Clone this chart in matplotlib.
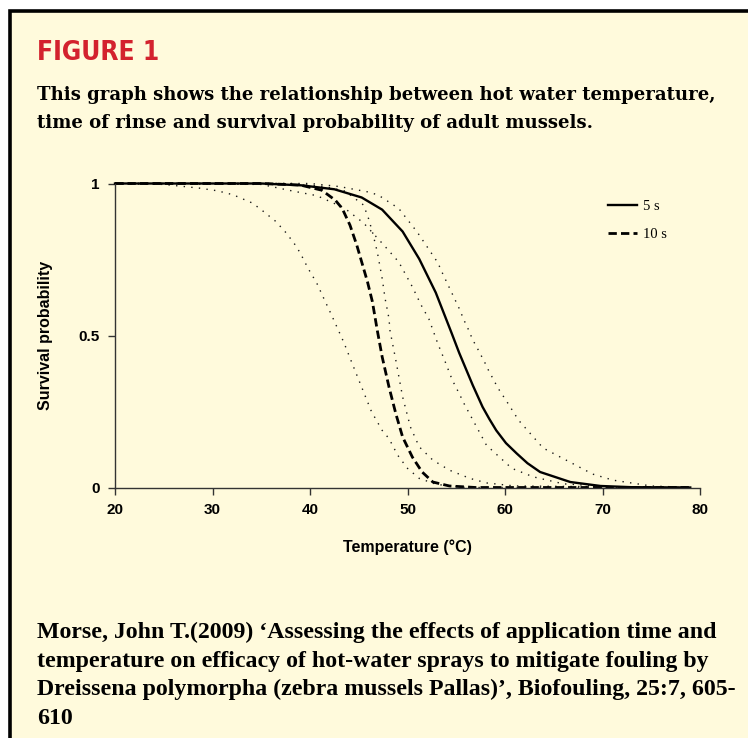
import matplotlib
matplotlib.use("Agg")
import matplotlib.pyplot as plt
from matplotlib.patches import Rectangle

# survival curves (temperature in deg C, survival probability)
temp_5s = [20, 35, 39.1, 42.5, 45.3, 47.4, 49.5, 51.2, 52.9, 54.5, 55.3, 56.7, 57.7,
           58.4, 59.1, 60.1, 61.2, 62.3, 63.6, 66.7, 69.8, 73, 79]
prob_5s = [1, 1, 0.994, 0.981, 0.954, 0.914, 0.842, 0.752, 0.641, 0.51, 0.443, 0.336,
           0.265, 0.225, 0.188, 0.146, 0.112, 0.08, 0.051, 0.018, 0.005, 0.001, 0]

temp_5s_lo = [20, 35, 38.1, 40.7, 43.5, 45.5, 47.5, 49.1, 50.5, 51.4, 52.2, 53.1, 53.8,
              54.6, 55.3, 55.8, 58.1, 60.7, 62.9, 66, 72, 79]
prob_5s_lo = [1, 0.997, 0.976, 0.96, 0.92, 0.87, 0.80, 0.742, 0.66, 0.6, 0.554, 0.474,
              0.419, 0.353, 0.309, 0.276, 0.139, 0.063, 0.035, 0.012, 0, 0]

temp_5s_hi = [20, 40, 43, 46.0, 47.0, 49.1, 51, 53.1, 53.6, 55.3, 55.8, 56.2, 56.7, 57.1,
              57.9, 58.3, 59.3, 60.2, 61.4, 63.9, 69.0, 71.1, 75, 79]
prob_5s_hi = [1, 1, 0.99, 0.972, 0.962, 0.918, 0.84, 0.74, 0.704, 0.589, 0.55, 0.523,
              0.485, 0.462, 0.413, 0.386, 0.326, 0.282, 0.221, 0.13, 0.044, 0.024, 0.005, 0]

temp_10s = [20, 35, 39, 41.2, 42.6, 43.3, 44.1, 44.8, 45.3, 45.9, 46.4, 46.9, 47.4, 48.1,
            48.8, 49.5, 50.5, 51.5, 52.6, 54.3, 57, 79]
prob_10s = [1, 1, 0.995, 0.978, 0.945, 0.918, 0.863, 0.797, 0.742, 0.676, 0.611, 0.517,
            0.43, 0.331, 0.243, 0.166, 0.1, 0.051, 0.018, 0.005, 0, 0]

temp_10s_lo = [20, 25, 28.6, 30.5, 32.1, 34.0, 34.8, 36.5, 37.6, 38.6, 39.1, 39.8, 40.7,
               41.4, 42.2, 42.9, 43.5, 44.3, 45.3, 46.3, 47.4, 48.1, 49.0, 50.0, 51.2,
               53, 56, 79]
prob_10s_lo = [1, 0.997, 0.985, 0.976, 0.963, 0.937, 0.919, 0.875, 0.836, 0.793, 0.765,
               0.721, 0.672, 0.623, 0.568, 0.518, 0.475, 0.41, 0.33, 0.25, 0.188, 0.161,
               0.106, 0.063, 0.03, 0.01, 0, 0]

temp_10s_hi = [20, 38, 41.5, 43.6, 45.5, 46.0, 46.4, 46.9, 47.4, 47.7, 48.1, 48.2, 48.8,
               49.5, 50.3, 51.2, 52.6, 54.3, 56.4, 58.1, 61, 79]
prob_10s_hi = [1, 1, 0.99, 0.975, 0.929, 0.885, 0.841, 0.775, 0.688, 0.622, 0.556, 0.517,
               0.419, 0.298, 0.199, 0.134, 0.09, 0.057, 0.03, 0.015, 0.005, 0]

x_ticks = [20, 30, 40, 50, 60, 70, 80]
y_ticks = [0, 0.5, 1]
y_tick_labels = ["0", "0.5", "1"]

title = "FIGURE 1"
subtitle = ["This graph shows the relationship between hot water temperature,",
            "time of rinse and survival probability of adult mussels."]
cite = ["Morse, John T.(2009) \u2018Assessing the effects of application time and",
        "temperature on efficacy of hot-water sprays to mitigate fouling by",
        "Dreissena polymorpha (zebra mussels Pallas)\u2019, Biofouling, 25:7, 605-",
        "610"]

cream = "#FFFADC"
dot_style = (0, (1, 4.5))

fig = plt.figure(figsize=(7.48, 7.38), dpi=100)
fig.patch.set_facecolor("white")
renderer = fig.canvas.get_renderer()


def fit_width(txt, width_px):
    # scale the font so the line spans the same width as in the scan
    w = txt.get_window_extent(renderer).width
    txt.set_fontsize(txt.get_fontsize() * width_px / w)


# boxed panel, open to the right and bottom like the clipped page
fig.patches.append(Rectangle((9.5 / 748, -0.05), 1.2, 1 - 10.5 / 738 + 0.05,
                             transform=fig.transFigure, facecolor=cream,
                             edgecolor="black", linewidth=2.6, zorder=-10))

t = fig.text(37 / 748, 1 - 60 / 738, title, color="#D3222E", fontsize=20,
             fontweight="bold", family="DejaVu Sans", fontstretch="condensed",
             va="baseline", ha="left")
fit_width(t, 122)

for i, line in enumerate(subtitle):
    t = fig.text(37 / 748, 1 - (100 + 28 * i) / 738, line, fontsize=12.5,
                 fontweight="bold", family="DejaVu Serif", va="baseline")
    if i == 0:
        fit_width(t, 681)
        sub_size = t.get_fontsize()
    else:
        t.set_fontsize(sub_size)

for i, line in enumerate(cite):
    t = fig.text(37 / 748, 1 - (638 + 28.5 * i) / 738, line, fontsize=13,
                 family="Liberation Serif", fontweight="bold", va="baseline")
    if i == 0:
        fit_width(t, 675)
        cite_size = t.get_fontsize()
    else:
        t.set_fontsize(cite_size)

ax = fig.add_axes([115 / 748, 1 - 487.5 / 738, 585 / 748, 304 / 738])
ax.set_facecolor("none")

for tt, pp in [(temp_5s_lo, prob_5s_lo), (temp_5s_hi, prob_5s_hi),
               (temp_10s_lo, prob_10s_lo), (temp_10s_hi, prob_10s_hi)]:
    ax.plot(tt, pp, color="#1a1a1a", lw=1.0, ls=dot_style, clip_on=False)
ax.plot(temp_5s, prob_5s, color="black", lw=1.7, label="5 s", clip_on=False)
ax.plot(temp_10s, prob_10s, color="black", lw=2.0, ls=(0, (3, 1.5)), label="10 s",
        clip_on=False)

ax.set_xlim(20, 80)
ax.set_ylim(0, 1)
ax.set_xticks(x_ticks)
ax.set_yticks(y_ticks)
ax.set_yticklabels(y_tick_labels)
for side in ["top", "right"]:
    ax.spines[side].set_visible(False)
for side in ["left", "bottom"]:
    ax.spines[side].set_color("#333333")
    ax.spines[side].set_linewidth(1.0)
ax.tick_params(direction="out", length=5, width=1, color="#333333", labelsize=11,
               pad=6)
for lab in ax.get_xticklabels() + ax.get_yticklabels():
    lab.set_fontweight("bold")
    lab.set_family("Liberation Sans")

ax.set_xlabel("Temperature (\u00b0C)", fontsize=11.5, fontweight="bold",
              family="Liberation Sans", labelpad=16)
ax.set_ylabel("Survival probability", fontsize=11.5, fontweight="bold",
              family="Liberation Sans", labelpad=18)

ax.legend(loc="upper left", bbox_to_anchor=(0.82, 0.99), frameon=False,
          prop={"family": "Liberation Serif", "size": 10.5},
          handlelength=2.0, handletextpad=0.4, labelspacing=1.0)

fig.savefig("out.png", dpi=100, facecolor=fig.get_facecolor())
